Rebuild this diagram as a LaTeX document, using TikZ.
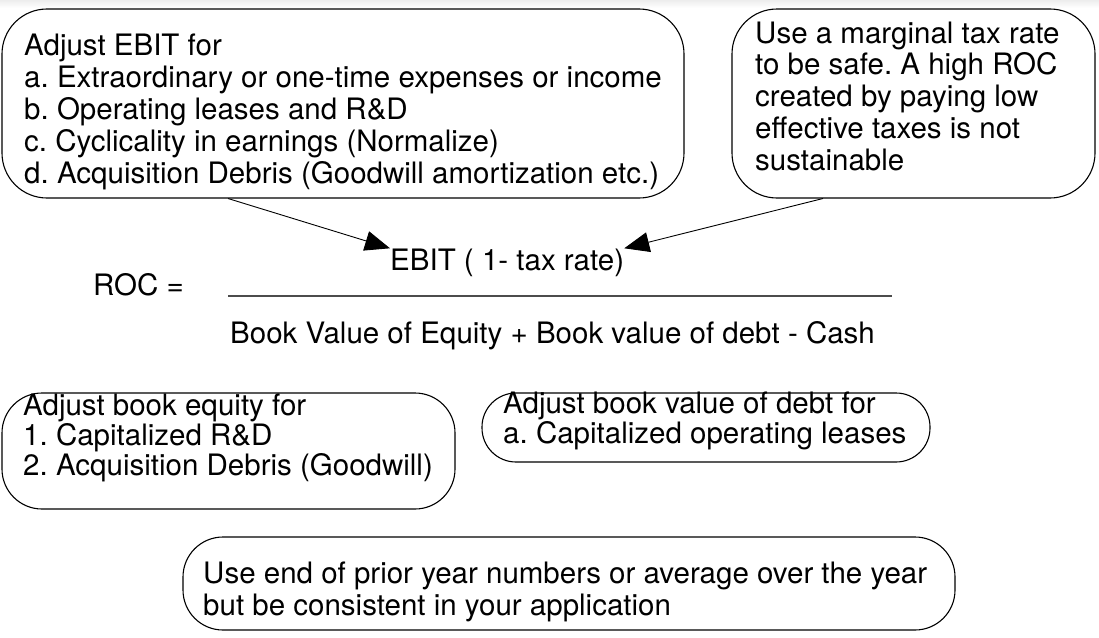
\documentclass[tikz,border=0pt]{standalone}
\usepackage{fontspec}
\setmainfont{TeX Gyre Heros}
\usetikzlibrary{arrows.meta}
\begin{document}
\frenchspacing
\begin{tikzpicture}[x=1pt,y=-1pt,
  bubble/.style={draw=black, line width=1.1pt, inner sep=0pt},
  txt/.style={anchor=base west, inner sep=0pt, align=left, font=\fontsize{29.5}{32}\selectfont},
  arr/.style={line width=0.9pt, -{Triangle[length=25pt,width=20pt]}},
  fracline/.style={line width=1.3pt, draw=black!70}]
\useasboundingbox (0,0) rectangle (1099,637);
\shade[top color=gray!14, bottom color=white] (0,0) rectangle (1099,8);
% boxes
\node[bubble, rounded corners=45pt, minimum width=682pt, minimum height=189pt] (b1) at (343,103.5) {};
\node[bubble, rounded corners=45pt, minimum width=363pt, minimum height=189pt] (b2) at (913.5,103.5) {};
\node[bubble, rounded corners=40pt, minimum width=453pt, minimum height=116pt] (b3) at (228.5,451) {};
\node[bubble, rounded corners=34pt, minimum width=448pt, minimum height=69pt] (b4) at (706,427.5) {};
\node[bubble, rounded corners=40pt, minimum width=772pt, minimum height=93pt] (b5) at (569,583.5) {};
% texts (anchor = baseline of the last line)
\node[txt] (t1) at (24,183) {Adjust EBIT for\\a. Extraordinary or one-time expenses or income\\b. Operating leases and R\&D\\c. Cyclicality in earnings (Normalize)\\d. Acquisition Debris (Goodwill amortization etc.)};
\node[txt, font=\fontsize{29.5}{31.7}\selectfont] (t2) at (755,170) {Use a marginal tax rate\\to be safe. A high ROC\\created by paying low\\effective taxes is not\\sustainable};
\node[txt] (ebit) at (390,270) {EBIT ( 1- tax rate)};
\node[txt] (roc) at (93,295) {ROC =};
\node[txt] (den) at (230,343) {Book Value of Equity + Book value of debt - Cash};
\node[txt, font=\fontsize{29.5}{30}\selectfont] (t3) at (23,475) {Adjust book equity for\\1. Capitalized R\&D\\2. Acquisition Debris (Goodwill)};
\node[txt, font=\fontsize{29.5}{30}\selectfont] (t4) at (503,443) {Adjust book value of debt for\\a. Capitalized operating leases};
\node[txt] (t5) at (203,615) {Use end of prior year numbers or average over the year\\but be consistent in your application};
% fraction line
\coordinate (f1) at (228,296);
\coordinate (f2) at (892,296);
\draw[fracline] (f1) -- (f2);
% arrows
\coordinate (s1) at (228,198.5);
\coordinate (s2) at (823,198.5);
\draw[arr] (s1) -- (ebit.north west);
\draw[arr] (s2) -- (ebit.north east);
\end{tikzpicture}
\end{document}
